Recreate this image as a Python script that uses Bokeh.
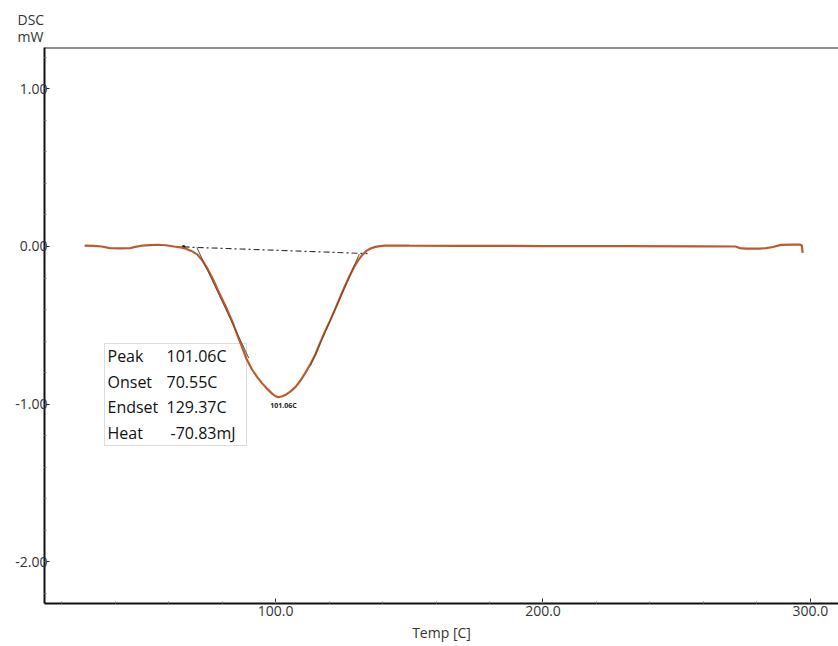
from bokeh.plotting import figure
from bokeh.models import (Range1d, FixedTicker, NumeralTickFormatter, Label,
                          BoxAnnotation, Span, Title)
from bokeh.embed import file_html
from bokeh.resources import INLINE

# DSC heat-flow trace (temperature in C, heat flow in mW)
temp_c = [28.6, 32, 35, 38, 42, 45.5, 47.5, 50, 53, 56, 59, 62, 64.5, 66.5,
          68.5, 70.7, 72.5, 74.5, 76.5, 78.2, 80, 81.9, 83.8, 85.7, 87.5,
          89.2, 91.2, 93.2, 95, 96.9, 98.5, 99.8, 101.06, 102.5, 104, 105.5,
          107.5, 109.3, 111.2, 113.1, 114.9, 116.8, 118.6, 120.4, 122.2, 124,
          125.8, 127.6, 129.3, 131, 132.5, 134, 135.5, 137, 139, 141, 144,
          150, 170, 200, 230, 260, 272, 273.5, 276, 281, 283.5, 286, 289,
          293, 296, 296.8, 297.1]
heat_flow_mw = [0.006, 0.004, 0.0, -0.010, -0.012, -0.011, -0.002, 0.005,
                0.009, 0.011, 0.008, 0.0, -0.006, -0.014, -0.028, -0.050,
                -0.085, -0.140, -0.205, -0.268, -0.332, -0.400, -0.475,
                -0.560, -0.640, -0.715, -0.780, -0.830, -0.868, -0.903,
                -0.930, -0.948, -0.956, -0.950, -0.938, -0.920, -0.890,
                -0.850, -0.800, -0.744, -0.685, -0.605, -0.535, -0.470,
                -0.400, -0.328, -0.257, -0.190, -0.131, -0.085, -0.052,
                -0.028, -0.013, -0.004, 0.002, 0.005, 0.006, 0.005, 0.004,
                0.003, 0.002, 0.001, 0.0, -0.010, -0.013, -0.013, -0.010,
                -0.003, 0.010, 0.012, 0.012, 0.006, -0.040]

# Integration baseline under the melting peak
baseline_t = [65.6, 134.4]
baseline_mw = [-0.003, -0.045]

# Tangents used for onset / endset
onset_tan_t = [70.55, 90.0]
onset_tan_mw = [-0.006, -0.708]
endset_tan_t = [113.0, 131.3]
endset_tan_mw = [-0.758, -0.049]

# Peak analysis results
peak_t = 101.06
peak_mw = -0.956
result_names = ["Peak", "Onset", "Endset", "Heat"]
result_values = ["101.06C", "70.55C", "129.37C", "-70.83mJ"]

y_ticks = [1.0, 0.0, -1.0, -2.0]
x_ticks = [100, 200, 300]

X0, X1 = 13.6, 310.5
Y0, Y1 = -2.264, 1.262
W, H = 838, 646
LEFT, TOP, RIGHT, BOTTOM = 44, 47, 0, 43
FW, FH = W - LEFT - RIGHT, H - TOP - BOTTOM


def dx(px):
    return X0 + (px - LEFT) / FW * (X1 - X0)


def dy(py):
    return Y1 - (py - TOP) / FH * (Y1 - Y0)


FONT = "Open Sans"
CURVE = "#bd5a2c"

p = figure(width=W, height=H, output_backend="svg", toolbar_location=None,
           x_range=Range1d(X0, X1), y_range=Range1d(Y0, Y1),
           min_border_left=LEFT, min_border_top=TOP,
           min_border_right=RIGHT, min_border_bottom=BOTTOM)
p.outline_line_color = None
p.background_fill_color = "white"
p.border_fill_color = "white"
p.xgrid.visible = False
p.ygrid.visible = False

# quantity / unit caption above the y axis
p.add_layout(Title(text="DSC\nmW", align="left", offset=-27, standoff=2,
                   text_font=FONT, text_font_size="14px",
                   text_font_style="normal", text_color="#333333",
                   text_line_height=0.9), "above")

# axes
p.xaxis.ticker = FixedTicker(ticks=x_ticks,
                             minor_ticks=list(range(20, 311, 20)))
p.xaxis.formatter = NumeralTickFormatter(format="0.0")
p.xaxis.axis_label = "Temp [C]"
p.xaxis.axis_label_text_font = FONT
p.xaxis.axis_label_text_font_size = "14px"
p.xaxis.axis_label_text_font_style = "normal"
p.xaxis.axis_label_text_color = "#333333"
p.xaxis.axis_label_standoff = 4
p.yaxis.ticker = FixedTicker(ticks=y_ticks,
                             minor_ticks=[round(-2.2 + 0.2 * i, 1) for i in range(18)])
p.yaxis.formatter = NumeralTickFormatter(format="0.00")
for ax in (p.xaxis[0], p.yaxis[0]):
    ax.axis_line_color = "#111111"
    ax.axis_line_width = 2
    ax.major_tick_in = 5
    ax.major_tick_out = 0
    ax.major_tick_line_color = "#222222"
    ax.minor_tick_in = 2
    ax.minor_tick_out = 0
    ax.minor_tick_line_color = "#777777"
    ax.major_label_text_font = FONT
    ax.major_label_text_font_size = "14px"
    ax.major_label_text_color = "#333333"
p.xaxis.major_label_standoff = 2
p.yaxis.major_label_standoff = -3

# top frame line
p.add_layout(Span(location=Y1, dimension="width", line_color="#222222",
                  line_width=2))

# results box (under the curve)
p.add_layout(BoxAnnotation(left=dx(104), right=dx(246), top=dy(343),
                           bottom=dy(445), fill_color="white", fill_alpha=1,
                           line_color="#8a8a8a", line_width=1,
                           level="underlay"))

# baseline and tangents
p.line(baseline_t, baseline_mw, line_color="#333333", line_width=1.2,
       line_dash="6 3 2 3")
p.scatter(baseline_t[:1], baseline_mw[:1], size=3, color="#111111")
p.line(onset_tan_t, onset_tan_mw, line_color="#888888", line_width=1)
p.line(endset_tan_t, endset_tan_mw, line_color="#888888", line_width=1)

# DSC curve
p.line(temp_c, heat_flow_mw, line_color=CURVE, line_width=2.2)

# dark tangent overlay on the steep flanks
p.line(onset_tan_t, onset_tan_mw, line_color="#3a2a20", line_width=1,
       line_alpha=0.45)
p.line(endset_tan_t, endset_tan_mw, line_color="#3a2a20", line_width=1,
       line_alpha=0.45)

# peak label
p.add_layout(Label(x=peak_t, y=peak_mw, text=result_values[0],
                   text_font=FONT, text_font_size="7px",
                   text_font_style="bold", text_color="#222222",
                   text_align="center", text_baseline="top",
                   x_offset=5, y_offset=-4))

row_py = [355, 381, 406, 432]
val_px = [166, 166, 166, 170]
for name, val, py, vx in zip(result_names, result_values, row_py, val_px):
    p.add_layout(Label(x=dx(107), y=dy(py), text=name, text_font=FONT,
                       text_font_size="16px", text_color="#111111",
                       text_baseline="middle", text_align="left"))
    p.add_layout(Label(x=dx(vx), y=dy(py), text=val, text_font=FONT,
                       text_font_size="16px", text_color="#111111",
                       text_baseline="middle", text_align="left"))

open("out.html", "w").write(file_html(p, INLINE))
